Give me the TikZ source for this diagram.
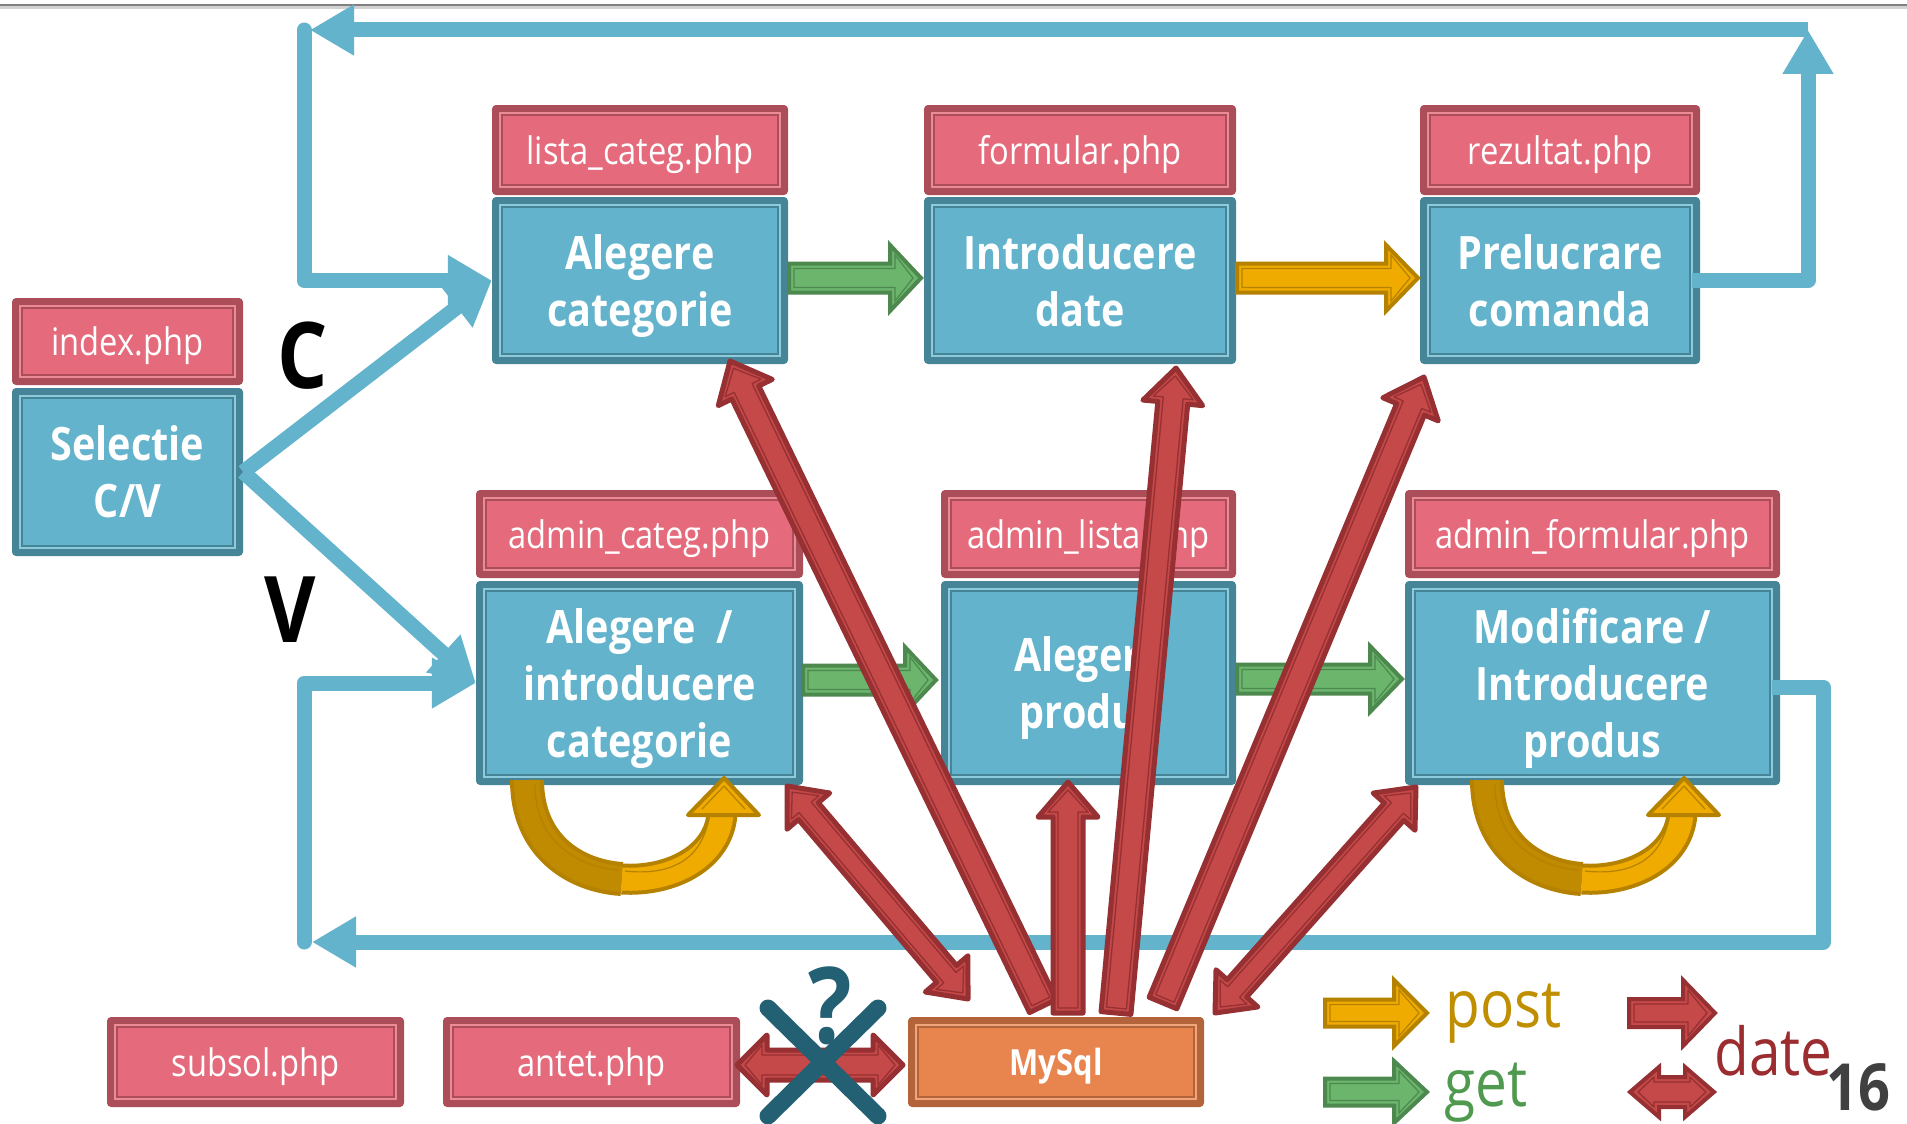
\documentclass[tikz,border=0pt]{standalone}
\usepackage{fontspec}
\setmainfont{Open Sans}[FakeStretch=0.86]
\usetikzlibrary{calc,arrows.meta}
\definecolor{pkF}{HTML}{E56B7C}
\definecolor{pkD}{HTML}{AC4E5A}
\definecolor{pkL}{HTML}{EC8A96}
\definecolor{blF}{HTML}{62B3CB}
\definecolor{blD}{HTML}{468597}
\definecolor{blL}{HTML}{8CCADC}
\definecolor{orF}{HTML}{E8854F}
\definecolor{orD}{HTML}{B4643A}
\definecolor{orL}{HTML}{F0A57A}
\definecolor{redF}{HTML}{C44948}
\definecolor{redD}{HTML}{963032}
\definecolor{grnF}{HTML}{6BB56C}
\definecolor{grnD}{HTML}{4D894F}
\definecolor{ylwF}{HTML}{F0AB00}
\definecolor{ylwD}{HTML}{B48100}
\definecolor{ylwK}{HTML}{C08B00}
\definecolor{xtl}{HTML}{246073}
\definecolor{postC}{HTML}{BF8F00}
\definecolor{getC}{HTML}{4F9A4F}
\definecolor{dateC}{HTML}{9B2D30}
\definecolor{numC}{HTML}{404040}
\newcommand\rsLbl{\fontsize{38}{44}\selectfont}
\newcommand\rsBox{\bfseries\fontsize{46}{57}\selectfont}
\newcommand\rsSql{\bfseries\fontsize{36}{40}\selectfont}
\newcommand\rsLeg{\fontsize{66}{66}\selectfont}
% box: name, x1, y1, x2, y2, colour prefix, font, text
\newcommand\rsbox[8]{%
  \fill[#6D, rounded corners=4pt] (#2,#3) rectangle (#4,#5);
  \fill[#6L] ({#2+7},{#3+7}) rectangle ({#4-7},{#5-7});
  \fill[#6D] ({#2+9},{#3+9}) rectangle ({#4-9},{#5-9});
  \fill[#6F] ({#2+11},{#3+11}) rectangle ({#4-11},{#5-11});
  \node[inner sep=0pt, minimum width={#4-#2}, minimum height={#5-#3}, text depth=0pt,
        text=white, font=#7, align=center] (#1) at ({(#2+#4)/2},{(#3+#5)/2}) {#8};
}
% single block arrow: outer style, inner style, from, tip, halfshaft, halfhead, headlen
\newcommand\sarrow[7]{%
  \coordinate (sa-c) at ($(#4)!#7pt!(#3)$);
  \path[#1] ($(#3)!#5pt!90:(#4)$) -- ($(sa-c)!#5pt!90:(#4)$) -- ($(sa-c)!#6pt!90:(#4)$) -- (#4)
     -- ($(sa-c)!#6pt!-90:(#4)$) -- ($(sa-c)!#5pt!-90:(#4)$) -- ($(#3)!#5pt!-90:(#4)$) -- cycle;
  \coordinate (sa-a) at ($(#3)!5pt!(#4)$);
  \coordinate (sa-b) at ($(#4)!8pt!(#3)$);
  \coordinate (sa-d) at ($(sa-c)!5pt!(#4)$);
  \path[#2] ($(sa-a)!#5pt-5pt!90:(#4)$) -- ($(sa-d)!#5pt-5pt!90:(#4)$) -- ($(sa-d)!#6pt-10pt!90:(#4)$) -- (sa-b)
     -- ($(sa-d)!#6pt-10pt!-90:(#4)$) -- ($(sa-d)!#5pt-5pt!-90:(#4)$) -- ($(sa-a)!#5pt-5pt!-90:(#4)$) -- cycle;
}
% double block arrow
\newcommand\darrow[7]{%
  \coordinate (da-c1) at ($(#3)!#7pt!(#4)$);
  \coordinate (da-c2) at ($(#4)!#7pt!(#3)$);
  \path[#1] (#3) -- ($(da-c1)!#6pt!90:(#4)$) -- ($(da-c1)!#5pt!90:(#4)$) -- ($(da-c2)!#5pt!90:(#4)$)
     -- ($(da-c2)!#6pt!90:(#4)$) -- (#4) -- ($(da-c2)!#6pt!-90:(#4)$) -- ($(da-c2)!#5pt!-90:(#4)$)
     -- ($(da-c1)!#5pt!-90:(#4)$) -- ($(da-c1)!#6pt!-90:(#4)$) -- cycle;
  \coordinate (da-a) at ($(#3)!8pt!(#4)$);
  \coordinate (da-b) at ($(#4)!8pt!(#3)$);
  \coordinate (da-d1) at ($(da-c1)!5pt!(#3)$);
  \coordinate (da-d2) at ($(da-c2)!5pt!(#4)$);
  \path[#2] (da-a) -- ($(da-d1)!#6pt-10pt!90:(#4)$) -- ($(da-d1)!#5pt-5pt!90:(#4)$) -- ($(da-d2)!#5pt-5pt!90:(#4)$)
     -- ($(da-d2)!#6pt-10pt!90:(#4)$) -- (da-b) -- ($(da-d2)!#6pt-10pt!-90:(#4)$) -- ($(da-d2)!#5pt-5pt!-90:(#4)$)
     -- ($(da-d1)!#5pt-5pt!-90:(#4)$) -- ($(da-d1)!#6pt-10pt!-90:(#4)$) -- cycle;
}
% U-turn arrow under a box
\newcommand\uturnarrow[1]{%
  \begin{scope}[xshift=#1pt]
    \draw[draw=ylwD, line width=4pt, double=ylwK, double distance=26pt]
      (527,780) .. controls (527,845) and (574,876) .. (621.9,879);
    \draw[draw=ylwD, line width=4pt, double=ylwF, double distance=23pt]
      (621.9,879) .. controls (669.75,882) and (718.5,858.5) .. (722,814);
    \draw[draw=ylwD, line width=1.2pt] (708,822) .. controls (700,860) and (670,876) .. (625,871);
    \draw[draw=ylwD, line width=1.2pt] (535,785) .. controls (535,840) and (575,866) .. (618,870);
    \filldraw[fill=ylwF, draw=ylwD, line width=4pt, line join=round] (688,815) -- (724,778) -- (759,815) -- cycle;
    \draw[draw=ylwD, line width=1.2pt, line join=round] (702,809) -- (724,786) -- (745,809);
  \end{scope}}
\tikzset{
  redout/.style={fill=redF, draw=redD, line width=5pt, line join=round},
  redoutm/.style={fill=redF, draw=redD, line width=4pt, line join=miter},
  redin/.style={draw=redD, line width=1.3pt, line join=round},
  grnout/.style={fill=grnF, draw=grnD, line width=4pt, line join=miter},
  grnin/.style={draw=grnD, line width=1.2pt},
  ylwout/.style={fill=ylwF, draw=ylwD, line width=4pt, line join=miter},
  ylwin/.style={draw=ylwD, line width=1.2pt},
  blueln/.style={draw=blF, line width=15pt, line join=round},
  bltip/.style={-{Triangle[length=44pt,width=48pt]}},
}
\begin{document}
\begin{tikzpicture}[x=1pt, y=-1pt]
\useasboundingbox (0,0) rectangle (1907,1124);
\fill[white] (0,0) rectangle (1907,1124);
\draw[gray!35, line width=3pt] (0,8) -- (1907,8);
\draw[gray, line width=2.5pt] (0,5) -- (1907,5);

% boxes
\rsbox{lista}{492}{105}{788}{195}{pk}{\rsLbl}{lista\_categ.php}
\rsbox{alegcat}{492}{197}{788}{364}{bl}{\rsBox}{Alegere\\categorie}
\rsbox{formular}{924}{105}{1236}{195}{pk}{\rsLbl}{formular.php}
\rsbox{introd}{924}{197}{1236}{364}{bl}{\rsBox}{Introducere\\date}
\rsbox{rezultat}{1420}{105}{1700}{195}{pk}{\rsLbl}{rezultat.php}
\rsbox{prel}{1420}{197}{1700}{364}{bl}{\rsBox}{Prelucrare\\comanda}
\rsbox{index}{12}{298}{243}{385}{pk}{\rsLbl}{index.php}
\rsbox{selectie}{12}{388}{243}{556}{bl}{\rsBox}{Selectie\\C/V}
\rsbox{admcateg}{476}{490}{803}{578}{pk}{\rsLbl}{admin\_categ.php}
\rsbox{aic}{476}{581}{803}{785}{bl}{\rsBox}{Alegere\ \ /\\introducere\\categorie}
\rsbox{admlista}{941}{490}{1236}{578}{pk}{\rsLbl}{admin\_lista.php}
\rsbox{ap}{941}{581}{1236}{785}{bl}{\rsBox}{Alegere\\produs}
\rsbox{admform}{1405}{490}{1780}{578}{pk}{\rsLbl}{admin\_formular.php}
\rsbox{mip}{1405}{581}{1780}{785}{bl}{\rsBox}{Modificare /\\Introducere\\produs}
\rsbox{subsol}{107}{1017}{404}{1107}{pk}{\rsLbl}{subsol.php}
\rsbox{antet}{443}{1017}{740}{1107}{pk}{\rsLbl}{antet.php}
\rsbox{mysql}{908}{1017}{1204}{1107}{or}{\rsSql}{MySql}

% blue connectors
\coordinate (TR) at (1808,30);
\coordinate (TL) at (304,30);
\coordinate (BR) at (1823,942);
\coordinate (BL) at (304,942);
\draw[blueln, bltip] ([xshift=-8pt]prel.east) -| (TR);
\draw[blueln, bltip] (TR) -- ([xshift=6pt]TL);
\draw[blueln, bltip, line cap=round] (TL) |- (alegcat.west);
\draw[blueln, bltip] (selectie.east) -- (alegcat.west);
\draw[blueln, bltip] (selectie.east) -- (aic.west);
\draw[blueln, bltip] ([xshift=-8pt,yshift=-4pt]mip.east) -| (BR) -- ([xshift=8pt]BL);
\draw[blueln, bltip, line cap=round] (BL) |- (aic.west);

% green / yellow arrows between boxes
\coordinate (g1a) at (789,278); \coordinate (g1b) at (921,278);
\coordinate (y1a) at (1237,278); \coordinate (y1b) at (1418,278);
\coordinate (g2a) at (803,680); \coordinate (g2b) at (936,680);
\coordinate (g3a) at (1237,679); \coordinate (g3b) at (1402,679);
\sarrow{grnout}{grnin}{g1a}{g1b}{14.5}{33}{31}
\sarrow{ylwout}{ylwin}{y1a}{y1b}{14.5}{33}{32}
\sarrow{grnout}{grnin}{g2a}{g2b}{14.5}{33}{31}
\sarrow{grnout}{grnin}{g3a}{g3b}{14.5}{33}{32}

% U-turn arrows
\uturnarrow{0}
\uturnarrow{960}

% red arrows from MySql
\coordinate (r1a) at (1043,1006); \coordinate (r1b) at (730,361);
\coordinate (r2a) at (1116,1013); \coordinate (r2b) at (1176,368);
\coordinate (r3a) at (1068,1013); \coordinate (r3b) at (1068,782);
\coordinate (r4a) at (1163,1003); \coordinate (r4b) at (1424,377);
\coordinate (d5a) at (1215,1013); \coordinate (d5b) at (1416,787);
\coordinate (d6a) at (968,999); \coordinate (d6b) at (787,786);
\coordinate (d7a) at (737,1065); \coordinate (d7b) at (903,1065);
\sarrow{redout}{redin}{r1a}{r1b}{15}{30}{35}
\sarrow{redout}{redin}{r2a}{r2b}{15}{30}{35}
\sarrow{redout}{redin}{r3a}{r3b}{15}{30}{35}
\sarrow{redout}{redin}{r4a}{r4b}{15}{30}{35}
\darrow{redout}{redin}{d5a}{d5b}{13}{28}{33}
\darrow{redout}{redin}{d6a}{d6b}{13}{28}{33}
\darrow{redout}{redin}{d7a}{d7b}{15}{30}{30}

% cross and question mark
\draw[xtl, line width=17pt, line cap=round] (768,1008) -- (878,1116);
\draw[xtl, line width=17pt, line cap=round] (878,1008) -- (768,1116);
\node[text=xtl, font=\bfseries\fontsize{106}{106}\selectfont] (qm) at (830,1006) {?};

% C / V letters
\node[text=black, font=\bfseries\fontsize{92}{92}\selectfont] (lc) at (303,356) {C};
\node[text=black, font=\bfseries\fontsize{92}{92}\selectfont] (lv) at (290,610) {V};

% legend
\coordinate (lpa) at (1325,1013); \coordinate (lpb) at (1427,1013);
\coordinate (lga) at (1325,1092); \coordinate (lgb) at (1427,1092);
\coordinate (lra) at (1629,1013); \coordinate (lrb) at (1715,1013);
\coordinate (lda) at (1630,1092); \coordinate (ldb) at (1714,1092);
\sarrow{ylwout}{ylwin}{lpa}{lpb}{13.5}{33}{33}
\sarrow{grnout}{grnin}{lga}{lgb}{13.5}{31}{33}
\sarrow{redoutm}{redin}{lra}{lrb}{14}{33}{32}
\darrow{redoutm}{redin}{lda}{ldb}{15}{25}{29}
\node[anchor=base west, inner sep=0pt, text=postC, font=\rsLeg] (tpost) at (1445,1027) {post};
\node[anchor=base west, inner sep=0pt, text=getC, font=\rsLeg] (tget) at (1444,1106) {get};
\node[anchor=base west, inner sep=0pt, text=dateC, font=\rsLeg] (tdate) at (1714,1075) {date};
\node[anchor=base west, inner sep=0pt, text=numC, font=\bfseries\fontsize{65}{65}\selectfont] (num) at (1826,1110) {16};
\end{tikzpicture}
\end{document}
